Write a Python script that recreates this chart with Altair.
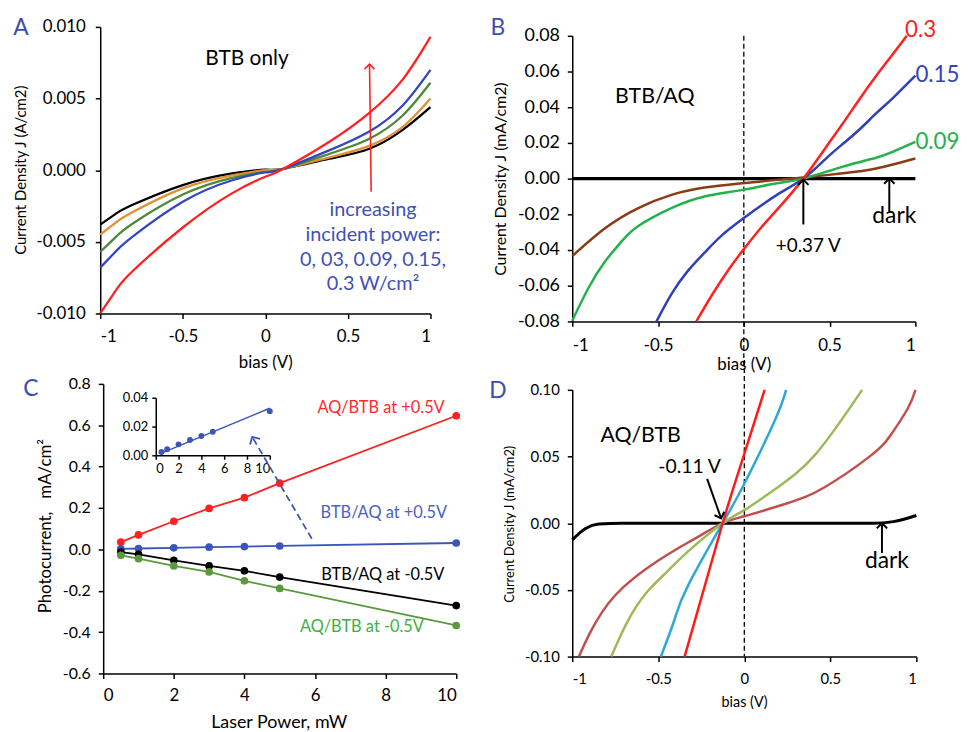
import altair as alt
import pandas as pd

FONT = "Lato"
LETTER_BLUE = "#3A4EB0"
CHEV = "M-1,1L0,0L1,1"

# ---------------- Panel A : BTB only (A/cm2) ----------------
a_bias = [-1, -0.9, -0.8, -0.5, -0.2, 0, 0.11, 0.39, 0.63, 0.83, 1]
a_dark = [-0.0038, -0.0030, -0.0024, -0.00104, -0.00023, 0.00003, 0.0001, 0.0008, 0.0015, 0.0028, 0.0044]
a_p003 = [-0.0045, -0.0036, -0.0029, -0.00127, -0.00036, 0.0, 0.0001, 0.0009, 0.0017, 0.0030, 0.0050]
a_p009 = [-0.0057, -0.0046, -0.0037, -0.0017, -0.00053, -0.00012, 0.0001, 0.00115, 0.0022, 0.0038, 0.0061]
a_p015 = [-0.0068, -0.0056, -0.0046, -0.0022, -0.0007, -0.00016, 0.0001, 0.0014, 0.0027, 0.0045, 0.0070]
a_p03 = [-0.0100, -0.0083, -0.0070, -0.0040, -0.0016, -0.00046, 0.0001, 0.0020, 0.0040, 0.0063, 0.0093]
a_names = ["0", "0.03", "0.09", "0.15", "0.3"]
a_colors = ["#000000", "#E39031", "#4A8A3A", "#3346C2", "#FF2020"]
a_note_x = [0.652, 0.652, 0.652, 0.652]
a_note_y = [-0.00277, -0.0045, -0.00624, -0.00797]
a_note_t = ["increasing", "incident power:", "0, 03, 0.09, 0.15,", "0.3 W/cm\u00b2"]
a_title_x, a_title_y = [-0.111], [0.00778]
a_arrow_x, a_arrow_y = [0.641, 0.631], [-0.0015, 0.0074]

# ---------------- Panel B : BTB/AQ (mA/cm2) ----------------
b_red_x = [-0.277, -0.181, -0.085, 0, 0.1, 0.193, 0.347, 0.482, 0.578, 0.674, 0.771, 0.867, 0.95]
b_red_y = [-0.08, -0.0645, -0.0505, -0.0395, -0.0275, -0.0175, 0, 0.018, 0.031, 0.0445, 0.0575, 0.0695, 0.08]
b_blue_x = [-0.509, -0.422, -0.326, -0.229, -0.133, 0, 0.193, 0.347, 0.482, 0.578, 0.674, 0.771, 0.867, 1.0]
b_blue_y = [-0.08, -0.0647, -0.0517, -0.0415, -0.0322, -0.0221, -0.0091, 0, 0.0115, 0.0195, 0.0275, 0.0365, 0.045, 0.0577]
b_green_x = [-1, -0.904, -0.807, -0.711, -0.615, -0.422, -0.229, -0.008, 0.193, 0.347, 0.578, 0.771, 0.867, 1.0]
b_green_y = [-0.0796, -0.061, -0.0462, -0.035, -0.0265, -0.0165, -0.010, -0.0063, -0.0026, 0, 0.0067, 0.0117, 0.015, 0.0206]
b_brown_x = [-1, -0.807, -0.615, -0.422, -0.229, -0.008, 0.193, 0.347, 0.578, 0.771, 1.0]
b_brown_y = [-0.0434, -0.0277, -0.0165, -0.0091, -0.005, -0.0026, -0.0007, 0.0006, 0.003, 0.0057, 0.0113]
b_dark_x = [-1, -0.5, 0, 0.5, 1]
b_dark_y = [0, 0, 0, 0, 0]
b_names = ["0.03", "0.09", "0.15", "0.3"]
b_colors = ["#8B3A14", "#22B14C", "#3040B8", "#FF2020"]
b_lab_x = [0.94, 1.0, 1.0]
b_lab_y = [0.0833, 0.058, 0.0206]
b_lab_t = ["0.3", "0.15", "0.09"]
b_lab_c = ["#FF2020", "#3344BB", "#22B14C"]
b_note_x = [-0.519, 0.376, 0.877]
b_note_y = [0.0456, -0.0378, -0.0211]
b_note_t = ["BTB/AQ", "+0.37 V", "dark"]
b_arrow1_x, b_arrow1_y = [0.347, 0.347], [-0.0257, -0.0006]
b_arrow2_x, b_arrow2_y = [0.848, 0.848], [-0.0193, 0.0]
b_rule = [0.0, 0.08, -0.105]

# ---------------- Panel C : photocurrent vs laser power ----------------
c_power = [0.5, 1, 2, 3, 4, 5, 10]
c_aqbtb_pos = [0.035, 0.070, 0.136, 0.198, 0.250, 0.320, 0.646]
c_btbaq_pos = [0.0023, 0.0042, 0.0076, 0.0106, 0.0134, 0.0164, 0.0307]
c_btbaq_neg = [-0.013, -0.024, -0.053, -0.080, -0.104, -0.134, -0.272]
c_aqbtb_neg = [-0.029, -0.045, -0.080, -0.109, -0.152, -0.189, -0.368]
c_names = ["AQ/BTB at +0.5V", "BTB/AQ at +0.5V", "BTB/AQ at -0.5V", "AQ/BTB at -0.5V"]
c_colors = ["#FF2020", "#3A56B8", "#000000", "#5B9A3C"]
c_lab_x = [7.87, 7.95, 7.92, 7.33]
c_lab_y = [0.685, 0.176, -0.126, -0.376]
c_lab_c = ["#FF2A2A", "#4A62C4", "#000000", "#3DB040"]
c_fit_x = [0.4, 10]
c_fit_y = [0.0012, 0.0327]
c_arrow_x, c_arrow_y = [5.91, 4.22], [0.051, 0.544]

# ---------------- Panel D : AQ/BTB (mA/cm2) ----------------
d_red_x = [-0.347, -0.126, 0, 0.118]
d_red_y = [-0.1, 0, 0.052, 0.1]
d_cyan_x = [-0.485, -0.405, -0.328, -0.126, 0, 0.176, 0.243]
d_cyan_y = [-0.1, -0.072, -0.047, 0, 0.0296, 0.0767, 0.1]
d_green_x = [-0.773, -0.68, -0.568, -0.45, -0.33, -0.126, 0, 0.195, 0.416, 0.685]
d_green_y = [-0.1, -0.074, -0.052, -0.0365, -0.0215, 0, 0.0098, 0.027, 0.052, 0.1]
d_brown_x = [-0.961, -0.9, -0.75, -0.5, -0.3, -0.126, 0, 0.25, 0.464, 0.733, 0.85, 0.95, 0.995]
d_brown_y = [-0.1, -0.083, -0.054, -0.028, -0.0125, 0, 0.0052, 0.0150, 0.0268, 0.0505, 0.066, 0.086, 0.1]
d_dark_x = [-1, -0.923, -0.846, -0.712, 0.75, 0.867, 1.0]
d_dark_y = [-0.0125, -0.0039, -0.0006, 0, 0, 0.0012, 0.0058]
d_names = ["brown", "green", "cyan", "red"]
d_colors = ["#C0504D", "#9BBB59", "#2EA9D6", "#FF1A1A"]
d_note_x = [-0.602, -0.318, 0.829]
d_note_y = [0.0653, 0.042, -0.0286]
d_note_t = ["AQ/BTB", "-0.11 V", "dark"]
d_arrow1_x, d_arrow1_y = [-0.216, -0.135], [0.0333, 0.0036]
d_arrow2_x, d_arrow2_y = [0.80, 0.80], [-0.0224, 0.0]
d_rule = [0.0, 0.1223, -0.10]


# ---------------- helpers ----------------
def minus_expr(fmt):
    return "replace(format(datum.value, '" + fmt + "'), '\u2212', '-')"


def xaxis(values, fmt, title, tx, ty, lfs, tfs, lpad, **kw):
    return alt.Axis(values=values, labelExpr=minus_expr(fmt), title=title,
                    titleX=tx, titleY=ty, titleAlign="center", titleBaseline="middle",
                    labelFontSize=lfs, titleFontSize=tfs, labelPadding=lpad, **kw)


def yaxis(values, fmt, title, tx, ty, lfs, tfs, lpad, **kw):
    return alt.Axis(values=values, labelExpr=minus_expr(fmt), title=title,
                    titleX=tx, titleY=ty, titleAngle=270, titleAlign="center",
                    titleBaseline="middle", labelFontSize=lfs, titleFontSize=tfs,
                    labelPadding=lpad, **kw)


def long_df(xs_list, ys_list, names, xn, yn):
    rows = []
    for name, xs, ys in zip(names, xs_list, ys_list):
        for x, y in zip(xs, ys):
            rows.append({xn: x, yn: y, "series": name})
    return pd.DataFrame(rows)


def arrow(xs, ys, xn, yn, X, Y, color, angle, dash=None, width=1.8, size=110):
    df = pd.DataFrame({xn: xs, yn: ys, "o": list(range(len(xs)))})
    kw = dict(color=color, strokeWidth=width)
    if dash:
        kw["strokeDash"] = dash
    line = alt.Chart(df).mark_line(**kw).encode(x=X, y=Y, order="o:Q")
    head = alt.Chart(df.tail(1)).mark_point(
        shape=CHEV, filled=False, color=color, strokeWidth=width, size=size,
        angle=angle, opacity=1).encode(x=X, y=Y)
    return [line, head]


def texts(xs, ys, ts, cs, xn, yn, X, Y, size, align="center"):
    df = pd.DataFrame({xn: xs, yn: ys, "t": ts, "c": cs})
    return alt.Chart(df).mark_text(fontSize=size, align=align, baseline="middle").encode(
        x=X, y=Y, text="t:N", fill=alt.Fill("c:N", scale=None))


def letter(ch, px, py):
    return alt.Chart(pd.DataFrame({"t": [ch]})).mark_text(
        fontSize=23, color=LETTER_BLUE, align="center", baseline="middle").encode(
        x=alt.value(px), y=alt.value(py), text="t:N")


BIAS_TICKS = [-1, -0.5, 0, 0.5, 1]

# ---------------- Panel A ----------------
A_W, A_H = 333, 289
AX = alt.X("bias:Q", scale=alt.Scale(domain=[-1, 1], nice=False, zero=False),
           axis=xaxis(BIAS_TICKS, "~g", "bias (V)", A_W / 2, 49, 17, 17, 10))
AY = alt.Y("J:Q", scale=alt.Scale(domain=[-0.01, 0.01], nice=False, zero=False),
           axis=yaxis([-0.01, -0.005, 0, 0.005, 0.01], ".3f", "Current Density J (A/cm2)",
                      -80, 144, 17, 15, 10))
dfA = long_df([a_bias] * 5, [a_dark, a_p003, a_p009, a_p015, a_p03], a_names, "bias", "J")
A_lines = alt.Chart(dfA).mark_line(strokeWidth=2.3, interpolate="natural").encode(
    x=AX, y=AY,
    color=alt.Color("series:N", scale=alt.Scale(domain=a_names, range=a_colors), legend=None))
A = alt.layer(
    A_lines,
    *arrow(a_arrow_x, a_arrow_y, "bias", "J", AX, AY, "#FF2020", 0, width=1.6, size=100),
    texts(a_title_x, a_title_y, ["BTB only"], ["#000000"], "bias", "J", AX, AY, 21),
    texts(a_note_x, a_note_y, a_note_t, ["#3F51B5"] * 4, "bias", "J", AX, AY, 20),
    letter("A", -80, 1),
).properties(width=A_W, height=A_H)

# ---------------- Panel B ----------------
B_W, B_H = 346, 297
BX = alt.X("bias:Q", scale=alt.Scale(domain=[-1, 1], nice=False, zero=False),
           axis=xaxis(BIAS_TICKS, "~g", "bias (V)", 173, 43, 17, 17, 11))
BY = alt.Y("J:Q", scale=alt.Scale(domain=[-0.08, 0.08], range=[B_H, 9], nice=False, zero=False),
           axis=yaxis([-0.08, -0.06, -0.04, -0.02, 0, 0.02, 0.04, 0.06, 0.08], ".2f",
                      "Current Density J (mA/cm2)", -72, 153, 18, 16, 8))
dfB = long_df([b_brown_x, b_green_x, b_blue_x, b_red_x],
              [b_brown_y, b_green_y, b_blue_y, b_red_y], b_names, "bias", "J")
B_rule = alt.Chart(pd.DataFrame({"bias": [b_rule[0]], "J": [b_rule[1]], "J2": [b_rule[2]]})).mark_rule(
    color="black", strokeDash=[5, 3], strokeWidth=1.3).encode(x=BX, y=BY, y2="J2:Q")
B_dark = alt.Chart(pd.DataFrame({"bias": b_dark_x, "J": b_dark_y})).mark_line(
    color="black", strokeWidth=3.2).encode(x=BX, y=BY)
B_lines = alt.Chart(dfB).mark_line(strokeWidth=2.5, interpolate="natural").encode(
    x=BX, y=BY,
    color=alt.Color("series:N", scale=alt.Scale(domain=b_names, range=b_colors), legend=None))
B = alt.layer(
    B_rule, B_dark, B_lines,
    *arrow(b_arrow1_x, b_arrow1_y, "bias", "J", BX, BY, "black", 0, width=2, size=110),
    *arrow(b_arrow2_x, b_arrow2_y, "bias", "J", BX, BY, "black", 0, width=2, size=110),
    texts(b_note_x[:1], b_note_y[:1], b_note_t[:1], ["#000000"], "bias", "J", BX, BY, 21.5),
    texts(b_note_x[1:2], b_note_y[1:2], b_note_t[1:2], ["#000000"], "bias", "J", BX, BY, 19),
    texts(b_note_x[2:], b_note_y[2:], b_note_t[2:], ["#000000"], "bias", "J", BX, BY, 23),
    texts(b_lab_x, b_lab_y, b_lab_t, b_lab_c, "bias", "J", BX, BY, 22.5, align="left"),
    letter("B", -75, 1),
).properties(width=B_W, height=B_H)

# ---------------- Panel C ----------------
C_W, C_H = 359, 292
CX = alt.X("power:Q", scale=alt.Scale(domain=[0, 10], range=[3, C_W], nice=False, zero=False),
           axis=xaxis([0, 2, 4, 6, 8, 10], "d", "Laser Power, mW", 180, 49, 17, 18, 9))
CY = alt.Y("pc:Q", scale=alt.Scale(domain=[-0.6, 0.8], nice=False, zero=False),
           axis=yaxis([-0.6, -0.4, -0.2, 0, 0.2, 0.4, 0.6, 0.8], ".1f",
                      "Photocurrent,\u00a0\u00a0\u00a0mA/cm\u00b2", -58, 143, 16, 17, 8, offset=-3))
dfC = long_df([c_power] * 4, [c_aqbtb_pos, c_btbaq_pos, c_btbaq_neg, c_aqbtb_neg], c_names, "power", "pc")
c_color = alt.Color("series:N", scale=alt.Scale(domain=c_names, range=c_colors), legend=None)
C_lines = alt.Chart(dfC).mark_line(strokeWidth=1.8).encode(x=CX, y=CY, color=c_color)
C_pts = alt.Chart(dfC).mark_circle(size=60, opacity=1).encode(x=CX, y=CY, color=c_color)
C_main = alt.layer(
    C_lines, C_pts,
    *arrow(c_arrow_x, c_arrow_y, "power", "pc", CX, CY, "#3A56B8", 330, dash=[7, 4], width=1.8, size=130),
    texts(c_lab_x, c_lab_y, c_names, c_lab_c, "power", "pc", CX, CY, 16.5),
    letter("C", -70, 5),
)
IX = alt.X("p2:Q", scale=alt.Scale(domain=[0, 10], range=[56, 171], nice=False, zero=False),
           axis=alt.Axis(orient="bottom", offset=-220, values=[0, 2, 4, 6, 8, 10], format="d",
                         labelFontSize=13, labelPadding=3, tickSize=4, title=None))
IY = alt.Y("v2:Q", scale=alt.Scale(domain=[0, 0.04], range=[72, 14], nice=False, zero=False),
           axis=alt.Axis(orient="left", offset=-56, values=[0, 0.02, 0.04], format=".2f",
                         labelFontSize=13, labelPadding=4, tickSize=4, title=None))
dfI = pd.DataFrame({"p2": c_power, "v2": c_btbaq_pos})
dfFit = pd.DataFrame({"p2": c_fit_x, "v2": c_fit_y})
C_inset = alt.layer(
    alt.Chart(dfFit).mark_line(color="#3A56B8", strokeWidth=1.5).encode(x=IX, y=IY),
    alt.Chart(dfI).mark_circle(size=35, opacity=1, color="#3A56B8").encode(x=IX, y=IY),
)
C = alt.layer(C_main, C_inset).resolve_scale(x="independent", y="independent").properties(
    width=C_W, height=C_H)

# ---------------- Panel D ----------------
D_W, D_H = 347, 275
DX = alt.X("bias:Q", scale=alt.Scale(domain=[-1, 1], nice=False, zero=False),
           axis=xaxis(BIAS_TICKS, "~g", "bias (V)", 173.3, 46, 15, 14.5, 10))
DY = alt.Y("J:Q", scale=alt.Scale(domain=[-0.1, 0.1], range=[D_H, 6], nice=False, zero=False),
           axis=yaxis([-0.1, -0.05, 0, 0.05, 0.1], ".2f", "Current Density J (mA/cm2)",
                      -63, 141, 15, 13, 8))
dfD = long_df([d_brown_x, d_green_x, d_cyan_x, d_red_x],
              [d_brown_y, d_green_y, d_cyan_y, d_red_y], d_names, "bias", "J")
D_rule = alt.Chart(pd.DataFrame({"bias": [d_rule[0]], "J": [d_rule[1]], "J2": [d_rule[2]]})).mark_rule(
    color="black", strokeDash=[5, 3], strokeWidth=1.3).encode(x=DX, y=DY, y2="J2:Q")
D_dark = alt.Chart(pd.DataFrame({"bias": d_dark_x, "J": d_dark_y})).mark_line(
    color="black", strokeWidth=3, interpolate="monotone").encode(x=DX, y=DY)
D_lines = alt.Chart(dfD).mark_line(strokeWidth=2.5, interpolate="natural").encode(
    x=DX, y=DY,
    color=alt.Color("series:N", scale=alt.Scale(domain=d_names, range=d_colors), legend=None))
D = alt.layer(
    D_rule, D_dark, D_lines,
    *arrow(d_arrow1_x, d_arrow1_y, "bias", "J", DX, DY, "black", 161, width=2, size=110),
    *arrow(d_arrow2_x, d_arrow2_y, "bias", "J", DX, DY, "black", 0, width=2, size=110),
    texts(d_note_x[:1], d_note_y[:1], d_note_t[:1], ["#000000"], "bias", "J", DX, DY, 21.5),
    texts(d_note_x[1:2], d_note_y[1:2], d_note_t[1:2], ["#000000"], "bias", "J", DX, DY, 19.5),
    texts(d_note_x[2:], d_note_y[2:], d_note_t[2:], ["#000000"], "bias", "J", DX, DY, 23),
    letter("D", -75, 7),
).properties(width=D_W, height=D_H)

chart = alt.concat(
    A, B, C, D, columns=2, bounds="flush", spacing={"row": 63, "column": 117}
).resolve_scale(color="independent").properties(
    padding={"left": 5, "top": 6, "right": 0, "bottom": 0}
).configure(font=FONT).configure_axis(
    grid=False, domainColor="black", domainWidth=1.5, tickColor="black", tickWidth=1.5,
    tickSize=5, labelColor="black", titleColor="black", labelFont=FONT, titleFont=FONT,
    titleFontWeight="normal"
).configure_view(stroke=None).configure_text(font=FONT)

chart.save("out.html", embed_options={"renderer": "svg", "actions": False})
